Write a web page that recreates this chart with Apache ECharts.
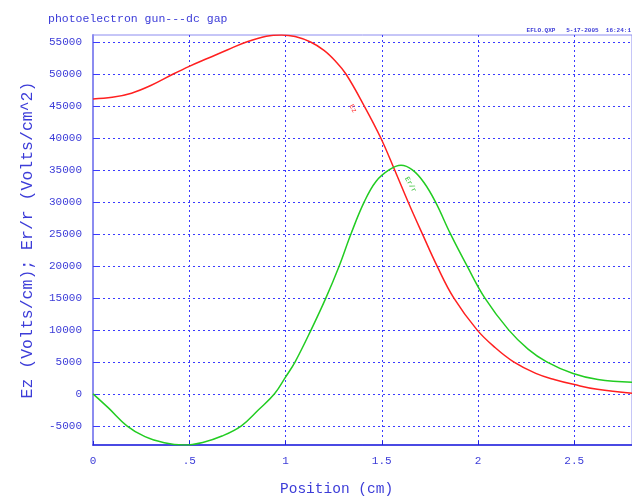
<!DOCTYPE html>
<html>
<head>
<meta charset="utf-8">
<script src="https://cdn.jsdelivr.net/npm/echarts@6/dist/echarts.min.js"></script>
<style>
  html, body { margin: 0; padding: 0; background: #fff; }
  #chart { width: 632px; height: 502px; }
</style>
</head>
<body>
<div id="chart"></div>
<script>
// Ez (red)
var ezX = [0, 0.1, 0.2, 0.3, 0.417, 0.5, 0.6, 0.7, 0.797, 0.9, 0.98, 1.05, 1.13, 1.2, 1.26, 1.314, 1.409, 1.495, 1.567, 1.637, 1.711, 1.787, 1.874, 1.995, 2.09, 2.185, 2.3, 2.4, 2.5, 2.62, 2.8]
var ezY = [46100, 46350, 47000, 48200, 50000, 51200, 52500, 53800, 55000, 55900, 56100, 55850, 55000, 53700, 52000, 50000, 45000, 40000, 35000, 30000, 25000, 20000, 15000, 10000, 7200, 5000, 3200, 2200, 1450, 700, 100]
// Er/r (green)
var erX = [0, 0.08, 0.176, 0.27, 0.37, 0.47, 0.57, 0.67, 0.771, 0.86, 0.943, 1.0, 1.05, 1.133, 1.21, 1.279, 1.34, 1.409, 1.47, 1.538, 1.6, 1.659, 1.72, 1.779, 1.857, 1.943, 2.035, 2.159, 2.26, 2.357, 2.494, 2.623, 2.8]
var erY = [0, -2200, -5000, -6700, -7650, -8000, -7600, -6600, -5000, -2500, 0, 2600, 5000, 10000, 15000, 20000, 25000, 30000, 33200, 35000, 35720, 35000, 33000, 30000, 25000, 20000, 15000, 10000, 7000, 5000, 3170, 2230, 1800]
var xTicks = ['0', '.5', '1', '1.5', '2', '2.5']
var yTicks = [-5000, 0, 5000, 10000, 15000, 20000, 25000, 30000, 35000, 40000, 45000, 50000, 55000]

var mono = '"Liberation Mono", "DejaVu Sans Mono", monospace'
var textBlue = '#3c3cd8'
var gridBlue = '#3a3aff'

function pairs(xs, ys) {
  return xs.map(function (x, i) { return [x, ys[i]] })
}

var chart = echarts.init(document.getElementById('chart'))

chart.setOption({
  backgroundColor: '#ffffff',
  animation: false,
  title: {
    text: 'photoelectron gun---dc gap',
    left: 43,
    top: 8,
    textStyle: { fontFamily: mono, fontSize: 11.5, fontWeight: 'normal', color: textBlue }
  },
  graphic: [{
    type: 'text',
    right: 1,
    top: 27,
    style: { text: 'EFLO.QXP   5-17-2005  16:24:1', font: 'bold 6px ' + mono, fill: textBlue }
  }, {
    type: 'text',
    left: 280,
    top: 482,
    style: { text: 'Position (cm)', font: '14.5px ' + mono, fill: textBlue }
  }],
  grid: {
    left: 93,
    top: 35,
    right: -2,
    bottom: 57,
    show: true,
    borderColor: '#8c8cf0',
    borderWidth: 1
  },
  xAxis: {
    type: 'value',
    min: 0,
    max: 2.8,
    interval: 0.5,
    axisLine: { onZero: false, lineStyle: { color: '#2222dd', width: 1.5 } },
    axisTick: { inside: true, length: 4, lineStyle: { color: '#2222dd' } },
    axisLabel: {
      showMaxLabel: false,
      margin: 11,
      fontFamily: mono,
      fontSize: 11,
      color: textBlue,
      formatter: function (v) {
        var i = Math.round(v / 0.5)
        return xTicks[i] !== undefined ? xTicks[i] : ''
      }
    },
    splitLine: { show: true, lineStyle: { color: gridBlue, type: [2, 3], width: 1 } }
  },
  yAxis: {
    type: 'value',
    min: -8000,
    max: 56100,
    name: 'Ez (Volts/cm); Er/r (Volts/cm^2)',
    nameLocation: 'middle',
    nameGap: 57,
    nameTextStyle: { fontFamily: mono, fontSize: 16.5, color: textBlue },
    axisLine: { show: true, lineStyle: { color: '#8c8cf0', width: 2 } },
    axisTick: { inside: true, length: 5, customValues: yTicks, lineStyle: { color: gridBlue } },
    axisLabel: {
      customValues: yTicks,
      margin: 11,
      fontFamily: mono,
      fontSize: 11,
      color: textBlue,
      formatter: function (v) { return String(v) }
    },
    splitLine: { show: true, lineStyle: { color: gridBlue, type: [2, 3], width: 1 } }
  },
  series: [{
    name: 'Ez',
    type: 'line',
    smooth: 0.4,
    showSymbol: false,
    lineStyle: { color: '#ff2020', width: 1.5 },
    data: pairs(ezX, ezY),
    markPoint: {
      symbol: 'circle',
      symbolSize: 0,
      data: [{ coord: [1.35, 44600] }],
      label: { show: true, formatter: 'Ez', rotate: -60, fontSize: 7, fontFamily: mono, color: '#ff3030' }
    }
  }, {
    name: 'Er/r',
    type: 'line',
    smooth: 0.4,
    showSymbol: false,
    lineStyle: { color: '#22cc22', width: 1.5 },
    data: pairs(erX, erY),
    markPoint: {
      symbol: 'circle',
      symbolSize: 0,
      data: [{ coord: [1.65, 32700] }],
      label: { show: true, formatter: 'Er/r', rotate: -60, fontSize: 7, fontFamily: mono, color: '#22bb22' }
    }
  }]
})
</script>
</body>
</html>
